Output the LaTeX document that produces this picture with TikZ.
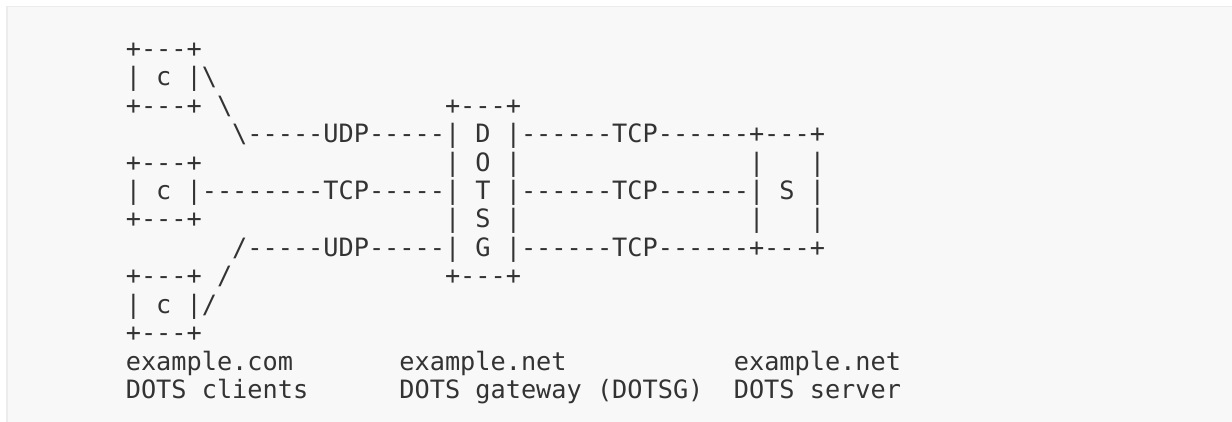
\documentclass[tikz,border=0pt]{standalone}
\usepackage{fontspec}
\setmonofont{DejaVu Sans Mono}
\frenchspacing
\definecolor{ink}{HTML}{333333}
\definecolor{panel}{HTML}{F8F8F8}
\definecolor{panelrule}{HTML}{ECECEC}
\begin{document}
\begin{tikzpicture}[x=1pt,y=-1pt,
  row/.style={anchor=base west, inner sep=0pt, outer sep=0pt, text=ink,
    font=\ttfamily\fontsize{25.25}{28}\selectfont}]
\useasboundingbox (0,0) rectangle (1232,422);
\fill[white] (0,0) rectangle (1232,422);
\filldraw[fill=panel, draw=panelrule, line width=1.5pt] (6.75,6.75) rectangle (1250,440);
% one node per line of the figure, baselines 28.4pt apart
\node[row] (r0)  at (125.8, 57.6) {+---+};
\node[row] (r1)  at (125.8, 86.0) {|~c~|\textbackslash};
\node[row] (r2)  at (125.8,114.4) {+---+~\textbackslash~~~~~~~~~~~~~~+---+};
\node[row] (r3)  at (125.8,142.8) {~~~~~~~\textbackslash-----UDP-----|~D~|------TCP------+---+};
\node[row] (r4)  at (125.8,171.2) {+---+~~~~~~~~~~~~~~~~|~O~|~~~~~~~~~~~~~~~|~~~|};
\node[row] (r5)  at (125.8,199.6) {|~c~|--------TCP-----|~T~|------TCP------|~S~|};
\node[row] (r6)  at (125.8,228.0) {+---+~~~~~~~~~~~~~~~~|~S~|~~~~~~~~~~~~~~~|~~~|};
\node[row] (r7)  at (125.8,256.4) {~~~~~~~/-----UDP-----|~G~|------TCP------+---+};
\node[row] (r8)  at (125.8,284.8) {+---+~/~~~~~~~~~~~~~~+---+};
\node[row] (r9)  at (125.8,313.2) {|~c~|/};
\node[row] (r10) at (125.8,341.6) {+---+};
\node[row] (r11) at (125.8,370.0) {example.com~~~~~~~example.net~~~~~~~~~~~example.net};
\node[row] (r12) at (125.8,398.4) {DOTS~clients~~~~~~DOTS~gateway~(DOTSG)~~DOTS~server};
\end{tikzpicture}
\end{document}
